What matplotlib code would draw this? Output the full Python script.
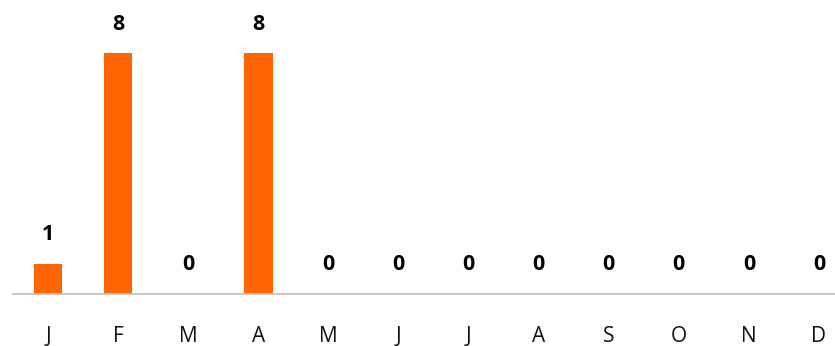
import matplotlib.pyplot as plt

months = ['J', 'F', 'M', 'A', 'M', 'J', 'J', 'A', 'S', 'O', 'N', 'D']
counts = [1, 8, 0, 8, 0, 0, 0, 0, 0, 0, 0, 0]

plt.rcParams['font.family'] = ['Open Sans', 'DejaVu Sans']

fig = plt.figure(figsize=(8.35, 3.46), dpi=100)
ax = fig.add_axes([13 / 835, 52 / 346, 1 - 13 / 835, 294 / 346])

x = list(range(len(months)))
ax.bar(x, counts, width=0.41, color='#ff6600')

for xi, c in zip(x, counts):
    ax.annotate(str(c), (xi, c), xytext=(0, 21), textcoords='offset points',
                ha='center', va='center', fontsize=15.5, fontweight='bold', color='black')

ax.set_xlim(-0.5, 11.5 - 19 / 70)
ax.set_ylim(0, 294 / 30.1)

for s in ['top', 'right', 'left']:
    ax.spines[s].set_visible(False)
ax.spines['bottom'].set_color('#bfbfbf')
ax.spines['bottom'].set_linewidth(1.2)
ax.set_yticks([])
ax.set_xticks(x)
ax.set_xticklabels(months, fontsize=15, color='#111111')
ax.tick_params(axis='x', length=0, pad=23)

fig.savefig('out.png', dpi=100)
